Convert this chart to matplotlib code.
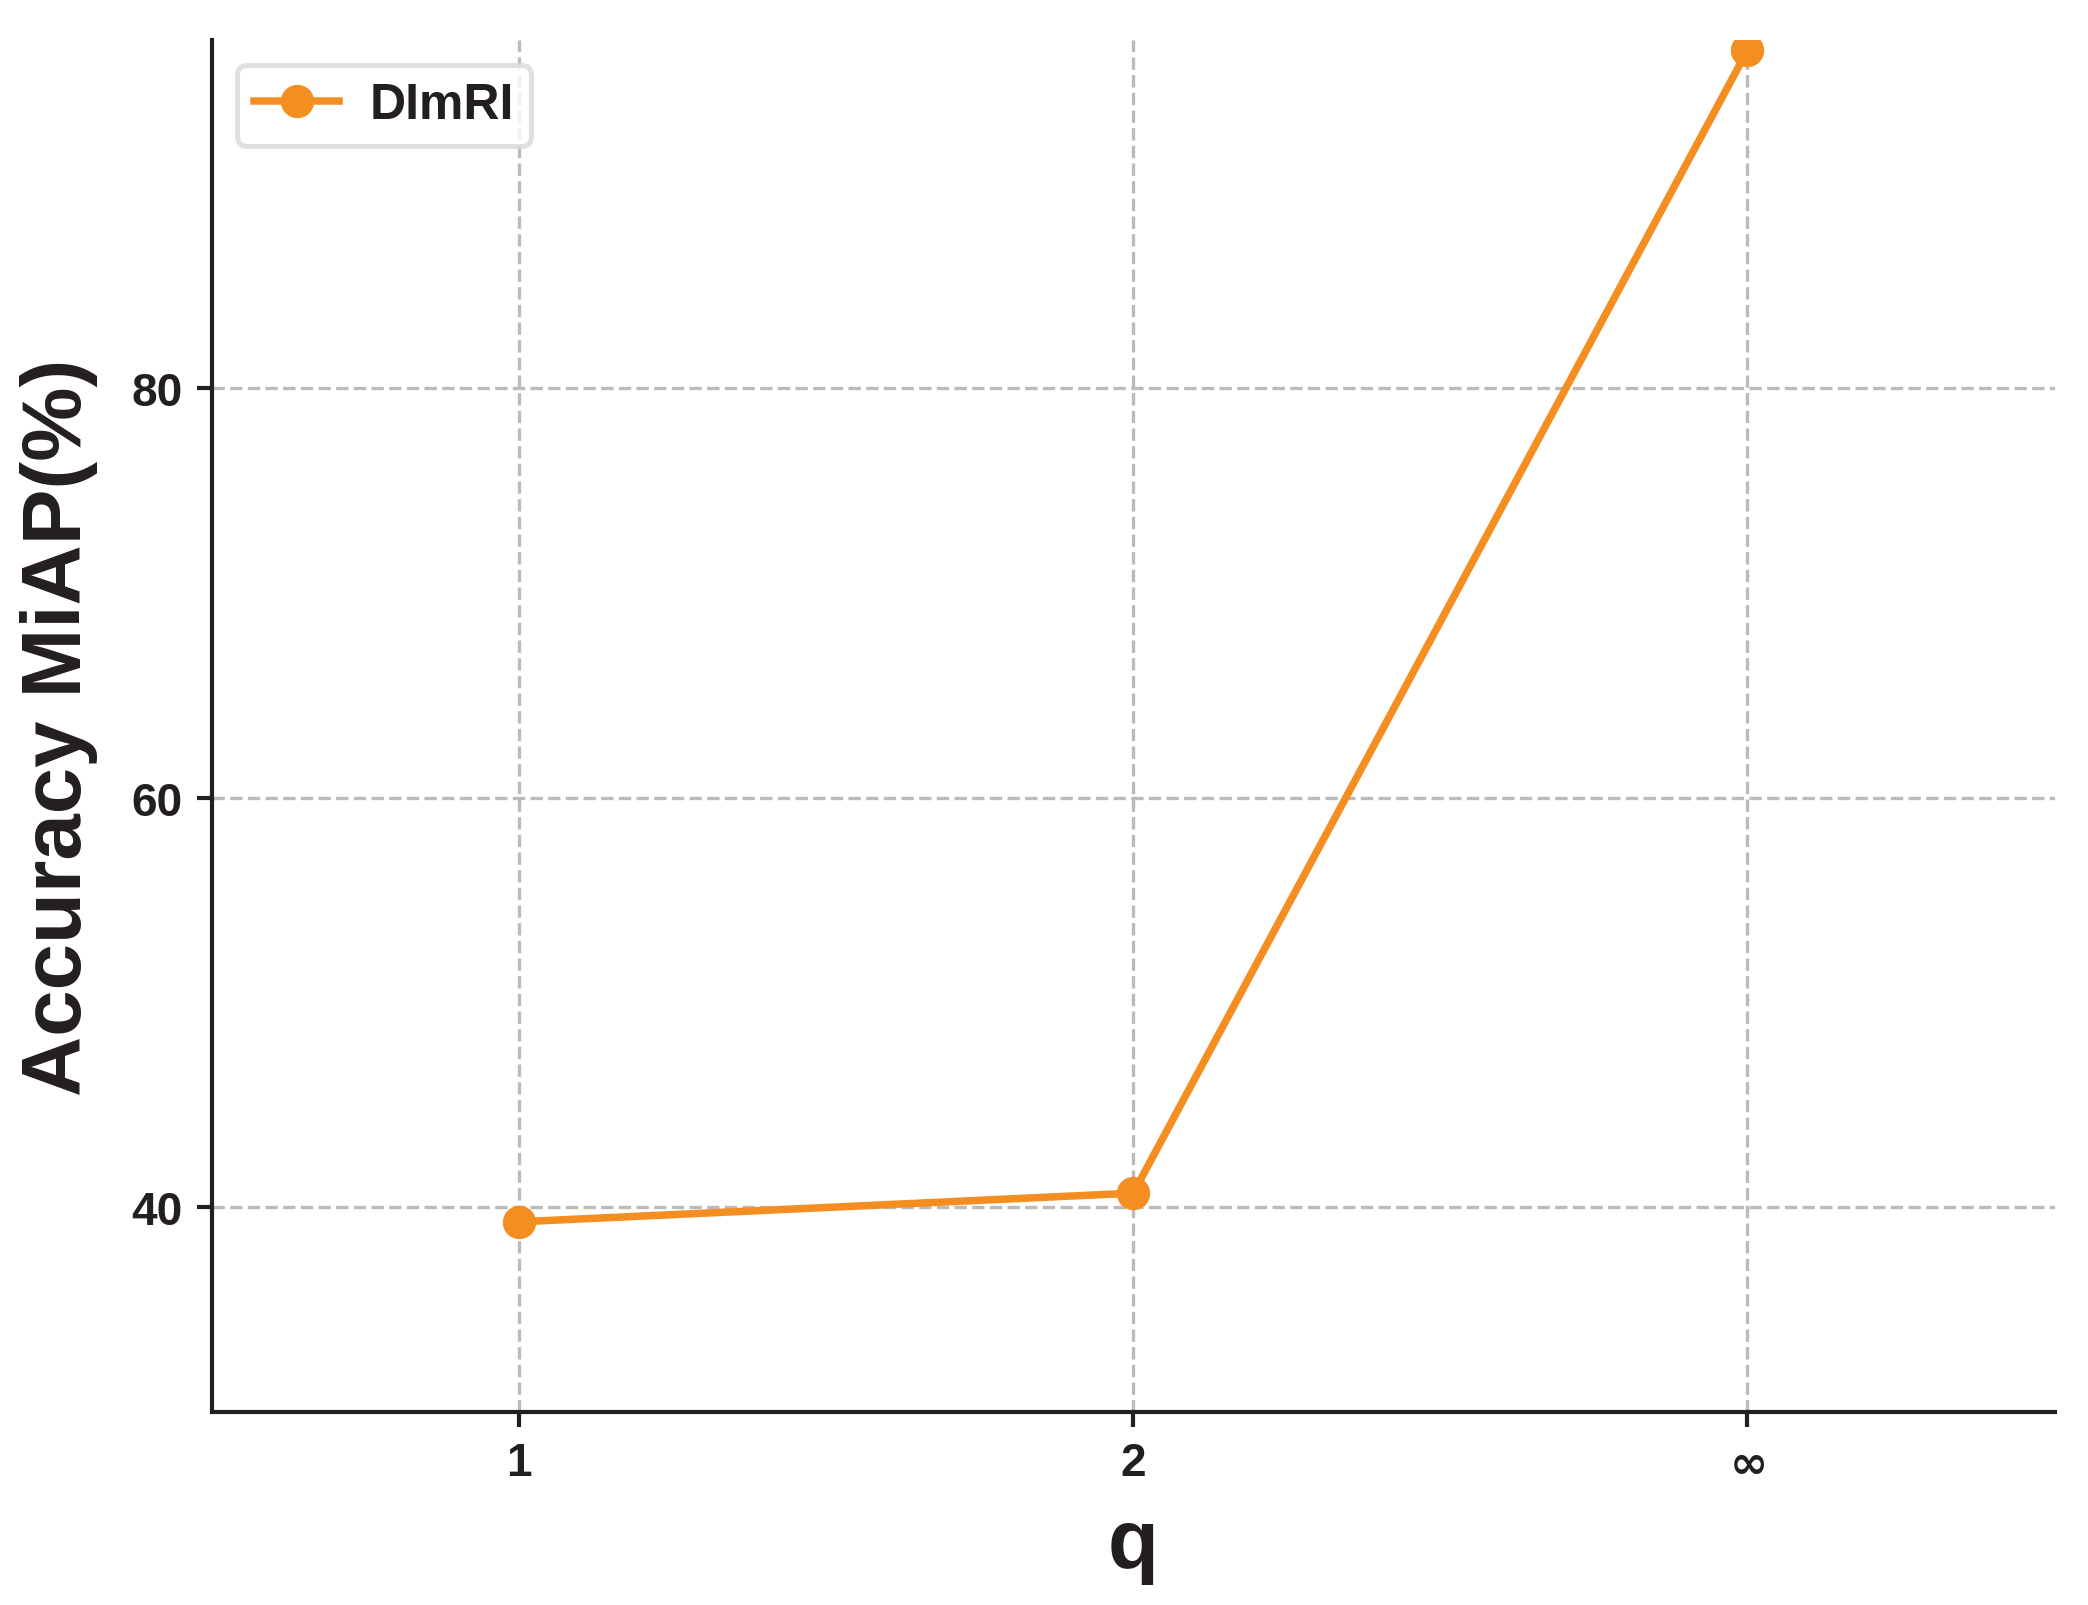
import numpy as np
import matplotlib
matplotlib.use("Agg")
import matplotlib.pyplot as plt

# data
q_labels = ["1", "2", r"$\infty$"]
miap = [39.3, 40.7, 96.5]
series_name = "DImRI"

ink = "#231f20"
orange = "#f58e20"

plt.rcParams['font.family'] = ['Liberation Sans', 'DejaVu Sans']
plt.rcParams['font.weight'] = 'bold'
plt.rcParams['mathtext.default'] = 'bf'

fig = plt.figure(figsize=(6.96, 5.353), dpi=300)
ax = fig.add_axes([0.1015, 0.12, 0.8825, 0.8545])

x = np.arange(len(q_labels))
ax.plot(x, miap, color=orange, lw=1.8, marker='o', markersize=7,
        label=series_name, zorder=3, clip_on=True)

ax.set_xlim(-0.5, 2.5)
ax.set_ylim(30, 97)
ax.set_xticks(x)
ax.set_xticklabels(q_labels)
ax.set_yticks([40, 60, 80])

ax.grid(True, linestyle='--', color='#bbbbbb', linewidth=0.8)
ax.set_axisbelow(True)

for side in ['top', 'right']:
    ax.spines[side].set_visible(False)
for side in ['left', 'bottom']:
    ax.spines[side].set_color(ink)
    ax.spines[side].set_linewidth(1.0)

ax.tick_params(axis='both', colors=ink, labelsize=11, length=3.5, width=1.0)
for lab in ax.get_xticklabels() + ax.get_yticklabels():
    lab.set_fontweight('bold')

ax.set_xlabel("q", fontsize=20, fontweight='bold', color=ink, labelpad=5)
ax.set_ylabel("Accuracy MiAP(%)", fontsize=20, fontweight='bold', color=ink, labelpad=8)

leg = ax.legend(loc='upper left', fontsize=12, frameon=True, fancybox=True,
                borderaxespad=0.5, handlelength=1.7, handletextpad=0.6,
                borderpad=0.35)
leg.get_frame().set_edgecolor('#d9d9d9')
leg.get_frame().set_linewidth(1.2)
for t in leg.get_texts():
    t.set_color(ink)
    t.set_fontweight('bold')

fig.savefig("out.png", dpi=300)
